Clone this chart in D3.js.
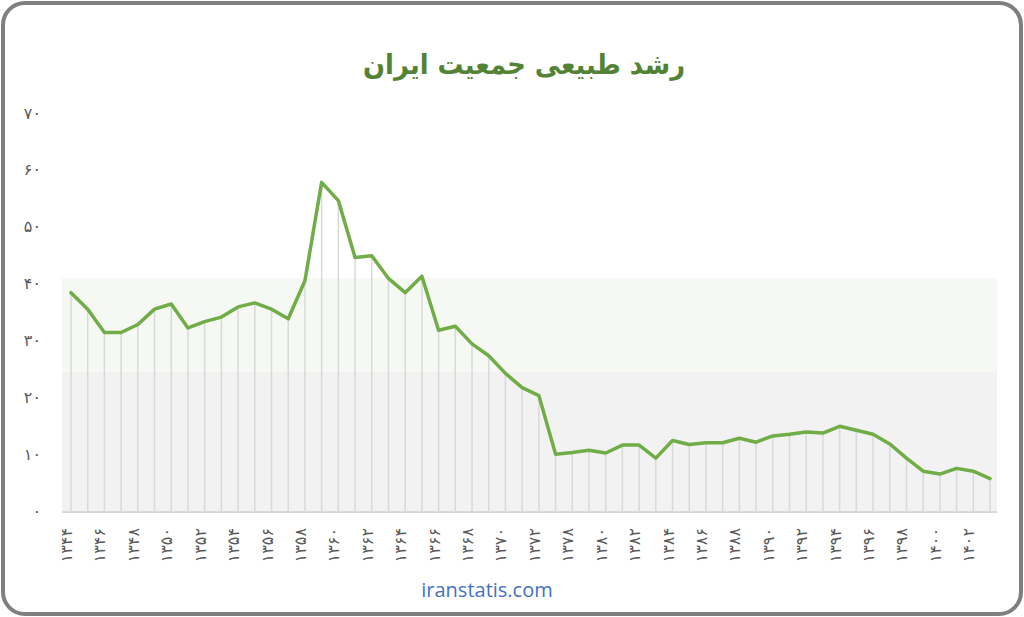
<!DOCTYPE html>
<html><head><meta charset="utf-8">
<script src="https://cdn.jsdelivr.net/npm/d3@7"></script>
<style>body{margin:0;background:#fff}svg{display:block}</style>
</head><body>
<svg id="c" width="1024" height="617"></svg>
<script>
const title = "رشد طبیعی جمعیت ایران";
const source = "iranstatis.com";
const years = [1344,1345,1346,1347,1348,1349,1350,1351,1352,1353,1354,1355,1356,1357,1358,1359,1360,1361,1362,1363,1364,1365,1366,1367,1368,1369,1370,1371,1372,1375,1378,1379,1380,1381,1382,1383,1384,1385,1386,1387,1388,1389,1390,1391,1392,1393,1394,1395,1396,1397,1398,1399,1400,1401,1402,1403];
const values = [38.4,35.5,31.4,31.4,32.8,35.5,36.4,32.2,33.3,34.1,35.9,36.6,35.5,33.8,40.5,57.8,54.6,44.6,44.9,40.9,38.4,41.3,31.8,32.5,29.4,27.3,24.2,21.7,20.3,10.0,10.3,10.7,10.2,11.6,11.6,9.3,12.4,11.7,12.0,12.0,12.8,12.1,13.2,13.5,13.9,13.7,14.9,14.2,13.5,11.8,9.3,7.0,6.5,7.5,7.0,5.7];
const yTicks = [0,10,20,30,40,50,60,70];
const bandEdges = [0, 24.5, 41];
const bandColors = ["#f2f2f2", "#f6f8f4"];

const toFa = n => String(n).replace(/\d/g, d => "۰۱۲۳۴۵۶۷۸۹"[+d]);
const svg = d3.select("#c");
const W = 1024, H = 617;

// border
svg.append("rect").attr("x", 3).attr("y", 3).attr("width", W - 6).attr("height", H - 6)
  .attr("rx", 22).attr("fill", "#fff").attr("stroke", "#7f7f7f").attr("stroke-width", 4);

const idx = years.map((d, i) => i);
const x = d3.scalePoint().domain(idx).range([71, 990]);
const y = d3.scaleLinear().domain([0, 70]).range([511, 113]);
const plotL = 62, plotR = 997;

// bands
for (let i = 0; i < bandColors.length; i++) {
  svg.append("rect").attr("x", plotL).attr("width", plotR - plotL)
    .attr("y", y(bandEdges[i + 1])).attr("height", y(bandEdges[i]) - y(bandEdges[i + 1]))
    .attr("fill", bandColors[i]);
}

// drop lines
svg.append("g").selectAll("line").data(values).join("line")
  .attr("x1", (d, i) => x(i)).attr("x2", (d, i) => x(i))
  .attr("y1", d => y(d)).attr("y2", y(0))
  .attr("stroke", "#d9d9d9").attr("stroke-width", 1.5);

// baseline
svg.append("line").attr("x1", plotL).attr("x2", plotR).attr("y1", y(0) + 1).attr("y2", y(0) + 1)
  .attr("stroke", "#d9d9d9").attr("stroke-width", 2);

// y axis labels
svg.append("g").selectAll("text").data(yTicks).join("text")
  .attr("x", 41).attr("y", d => y(d)).attr("dy", "0.35em")
  .attr("text-anchor", "end").attr("font-family", "DejaVu Sans").attr("font-size", 16)
  .style("letter-spacing", "4px")
  .attr("fill", "#595959").text(d => toFa(d));

// x axis labels
svg.append("g").selectAll("text").data(idx.filter(i => i % 2 === 0)).join("text")
  .attr("transform", i => `translate(${x(i) + 1},528) rotate(-90)`)
  .attr("text-anchor", "end").attr("font-family", "DejaVu Sans").attr("font-size", 16)
  .style("letter-spacing", "5px")
  .attr("fill", "#595959").text(i => toFa(years[i]));

// line
const line = d3.line().x((d, i) => x(i)).y(d => y(d));
svg.append("path").datum(values).attr("d", line).attr("fill", "none")
  .attr("stroke", "#70ad47").attr("stroke-width", 3.5).attr("stroke-linejoin", "round").attr("stroke-linecap", "round");

// title
svg.append("text").attr("x", 524).attr("y", 74).attr("text-anchor", "middle")
  .attr("font-family", "DejaVu Sans").attr("font-weight", "bold").attr("font-size", 28)
  .attr("textLength", 322).attr("lengthAdjust", "spacingAndGlyphs")
  .attr("fill", "#548235").attr("direction", "rtl").text(title);

// source
svg.append("text").attr("x", 487).attr("y", 597).attr("text-anchor", "middle")
  .attr("font-family", "Open Sans").attr("font-size", 20)
  .attr("fill", "#4472c4").text(source);
</script>
</body></html>
